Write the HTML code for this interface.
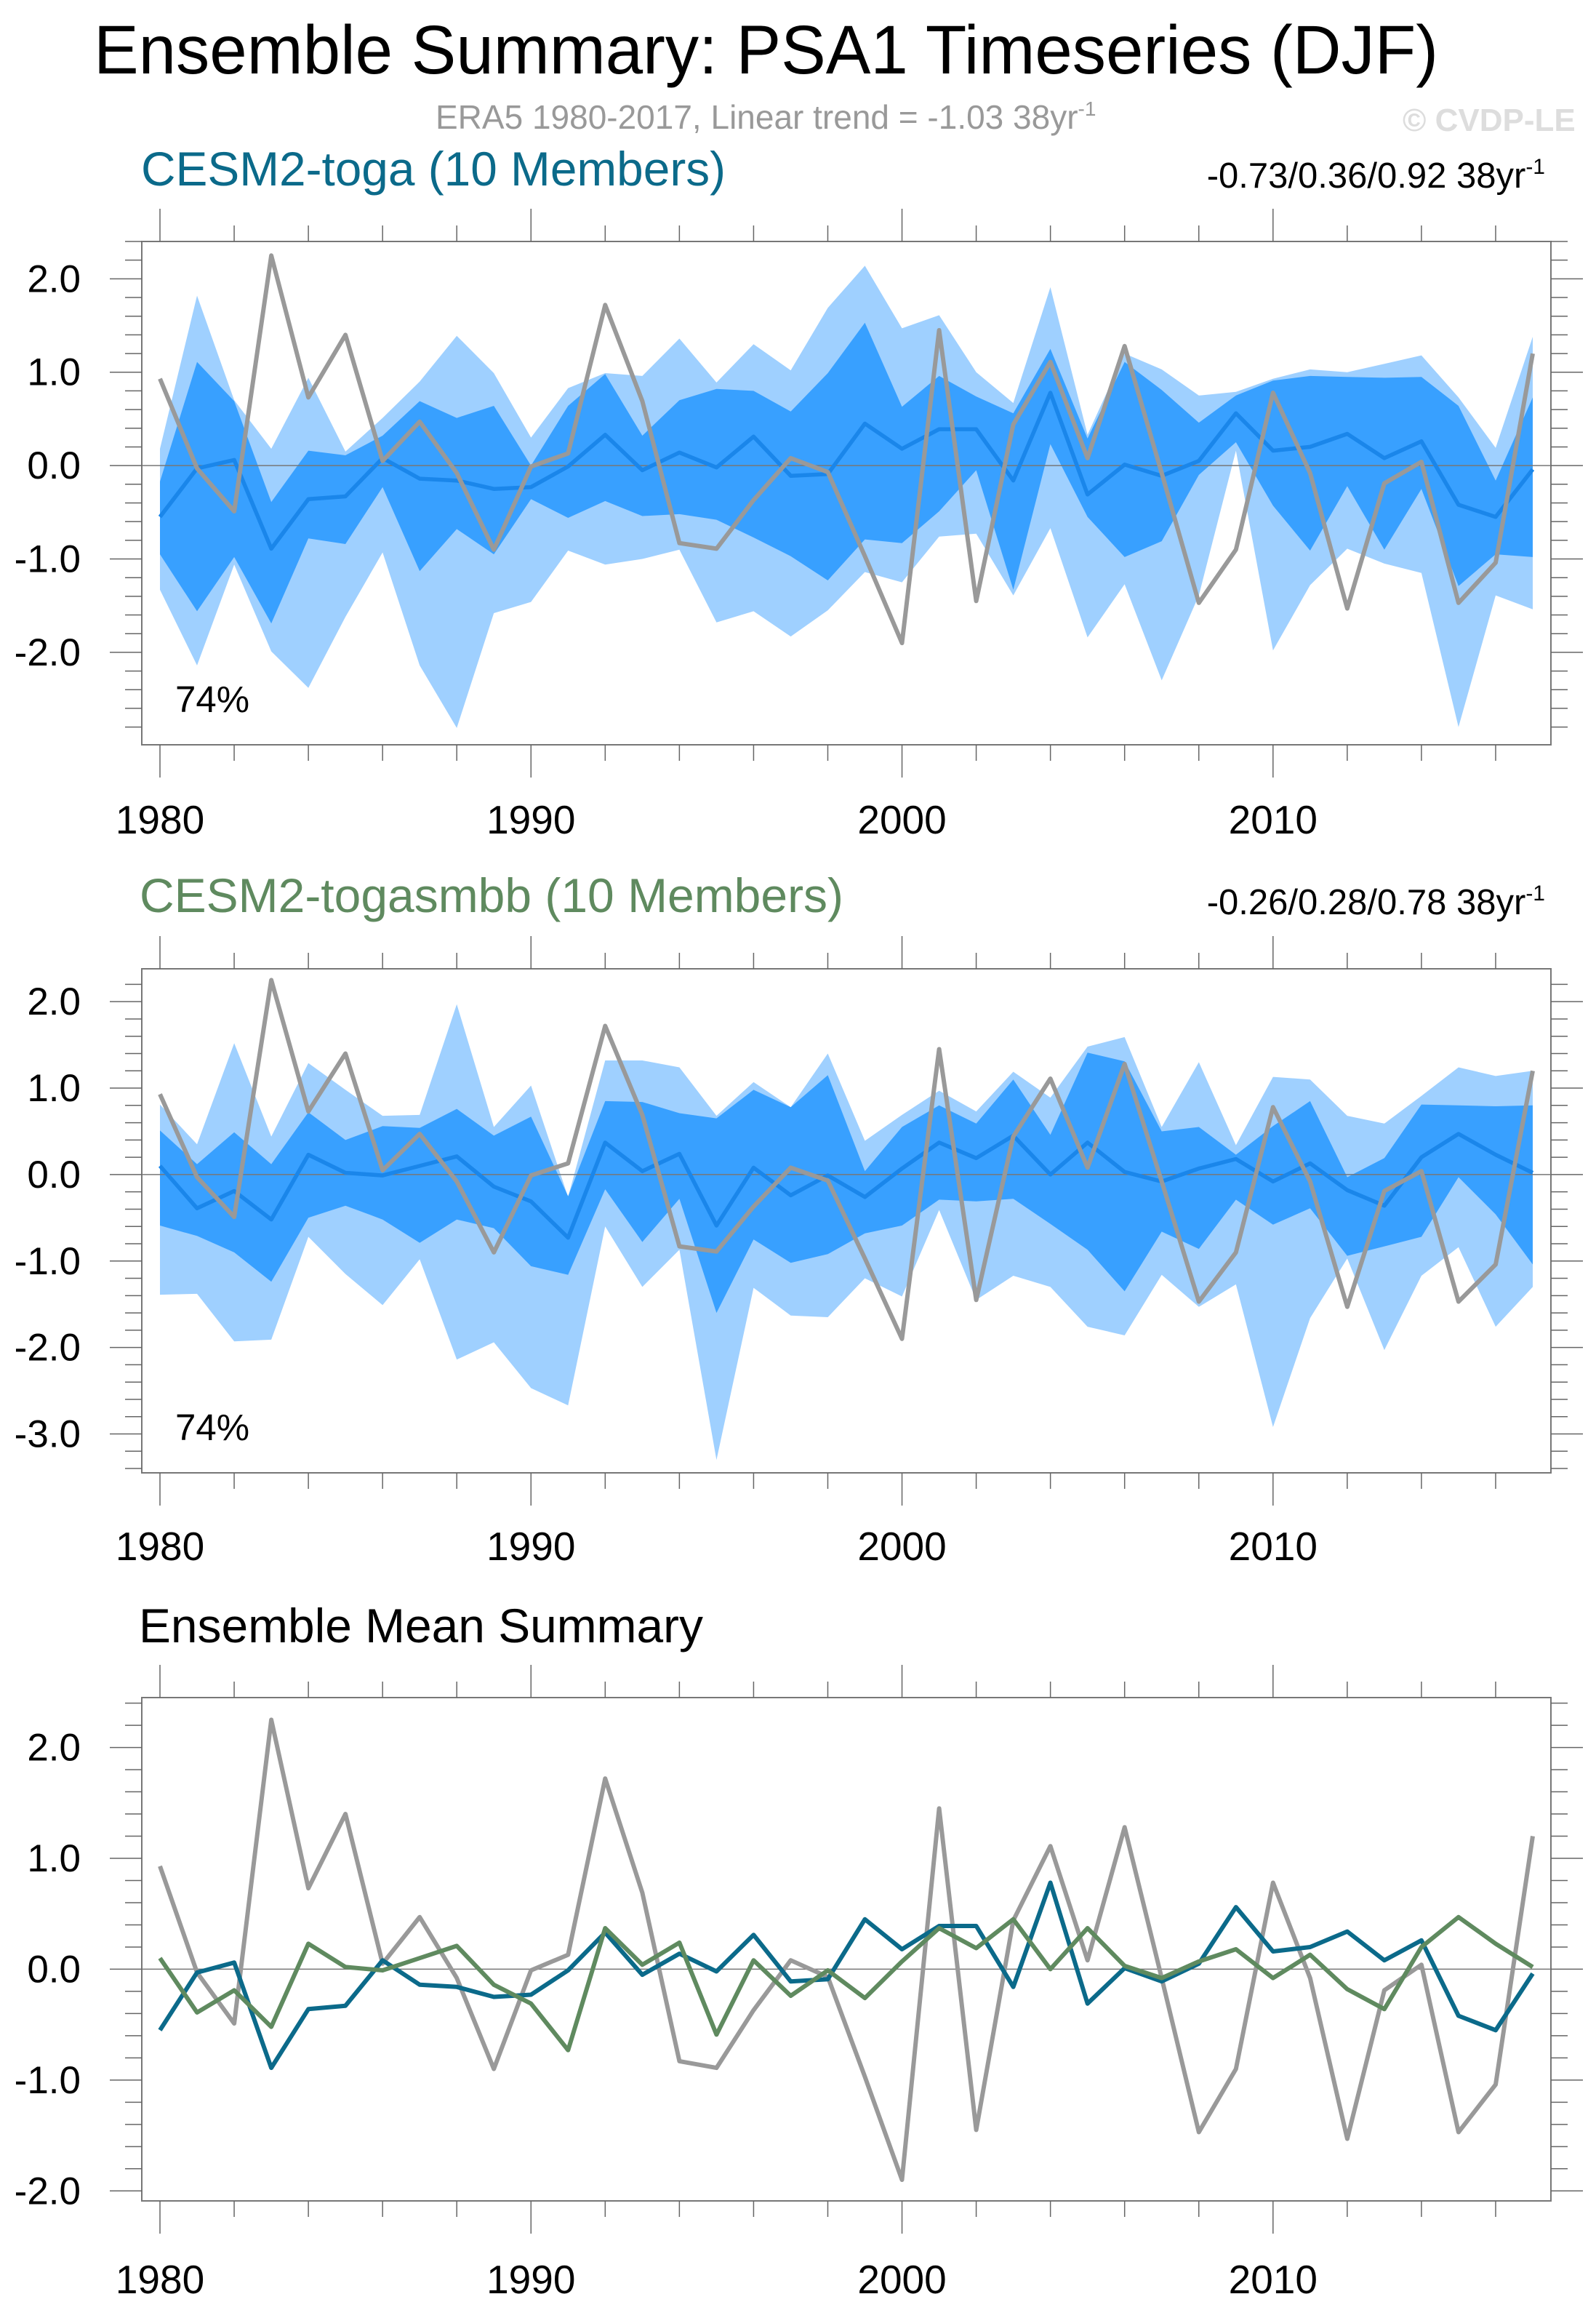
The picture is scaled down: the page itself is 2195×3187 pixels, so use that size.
<!DOCTYPE html>
<html><head><meta charset="utf-8"><title>Ensemble Summary: PSA1 Timeseries (DJF)</title>
<style>
html,body{margin:0;padding:0;background:#fff;}
svg{display:block;font-family:"Liberation Sans",sans-serif;}
</style></head>
<body>
<svg id="chart" xmlns="http://www.w3.org/2000/svg" width="2195" height="3187" viewBox="0 0 2195 3187">
<rect width="2195" height="3187" fill="#fff"/>
<text x="129" y="101" font-size="95" fill="#000" textLength="1849" lengthAdjust="spacingAndGlyphs">Ensemble Summary: PSA1 Timeseries (DJF)</text>
<text x="599" y="177" font-size="46" fill="#999">ERA5 1980-2017, Linear trend = -1.03 38yr<tspan dy="-18" font-size="28">-1</tspan></text>
<text x="1929" y="180" font-size="44" font-weight="bold" fill="#ddd">© CVDP-LE</text>
<text x="194" y="255" font-size="66" fill="#0b6a8a" textLength="804" lengthAdjust="spacingAndGlyphs">CESM2-toga (10 Members)</text>
<text x="2125" y="258" font-size="49" fill="#000" text-anchor="end">-0.73/0.36/0.92 38yr<tspan dy="-19" font-size="30">-1</tspan></text>
<text x="192" y="1254" font-size="66" fill="#5f8a5f" textLength="968" lengthAdjust="spacingAndGlyphs">CESM2-togasmbb (10 Members)</text>
<text x="2125" y="1257" font-size="49" fill="#000" text-anchor="end">-0.26/0.28/0.78 38yr<tspan dy="-19" font-size="30">-1</tspan></text>
<text x="191" y="2258" font-size="66" fill="#000" textLength="776" lengthAdjust="spacingAndGlyphs">Ensemble Mean Summary</text>
<text x="241" y="979" font-size="51" fill="#000">74%</text>
<text x="241" y="1980" font-size="51" fill="#000">74%</text>
</svg>
<script>
const years = [1980,1981,1982,1983,1984,1985,1986,1987,1988,1989,1990,1991,1992,1993,1994,1995,1996,1997,1998,1999,2000,2001,2002,2003,2004,2005,2006,2007,2008,2009,2010,2011,2012,2013,2014,2015,2016,2017];
const era5 = [0.93,-0.03,-0.49,2.25,0.73,1.40,0.05,0.47,-0.08,-0.90,-0.01,0.13,1.72,0.69,-0.83,-0.89,-0.37,0.08,-0.07,-0.97,-1.90,1.45,-1.45,0.44,1.11,0.08,1.28,-0.08,-1.47,-0.90,0.78,-0.08,-1.53,-0.19,0.04,-1.47,-1.04,1.20];
const togaMean = [-0.55,-0.03,0.06,-0.89,-0.36,-0.33,0.08,-0.14,-0.16,-0.25,-0.23,-0.01,0.33,-0.05,0.14,-0.02,0.31,-0.11,-0.09,0.45,0.18,0.39,0.39,-0.16,0.78,-0.31,0.01,-0.11,0.05,0.56,0.16,0.20,0.34,0.08,0.26,-0.42,-0.55,-0.04];
const togaDarkHi = [-0.17,1.11,0.69,-0.39,0.16,0.11,0.32,0.69,0.51,0.64,0.00,0.64,0.98,0.32,0.70,0.82,0.80,0.58,0.99,1.53,0.63,0.96,0.74,0.56,1.25,0.29,1.11,0.81,0.46,0.75,0.91,0.96,0.95,0.94,0.95,0.64,-0.16,0.73];
const togaDarkLo = [-0.95,-1.56,-0.98,-1.69,-0.78,-0.84,-0.23,-1.13,-0.68,-0.95,-0.36,-0.56,-0.38,-0.54,-0.52,-0.58,-0.77,-0.97,-1.23,-0.79,-0.83,-0.49,-0.05,-1.33,0.23,-0.55,-0.98,-0.81,-0.10,0.25,-0.43,-0.91,-0.22,-0.90,-0.25,-1.29,-0.95,-0.98];
const togaLightHi = [0.18,1.82,0.70,0.18,0.94,0.15,0.51,0.90,1.39,0.99,0.30,0.83,0.99,0.96,1.36,0.89,1.30,1.02,1.69,2.14,1.47,1.61,1.00,0.67,1.91,0.33,1.20,1.03,0.75,0.79,0.93,1.03,1.00,1.09,1.18,0.73,0.19,1.38];
const togaLightLo = [-1.33,-2.14,-1.06,-1.99,-2.38,-1.62,-0.93,-2.14,-2.81,-1.58,-1.46,-0.91,-1.06,-1.00,-0.90,-1.68,-1.56,-1.83,-1.55,-1.14,-1.25,-0.76,-0.73,-1.39,-0.67,-1.84,-1.27,-2.30,-1.39,0.16,-1.98,-1.28,-0.89,-1.05,-1.15,-2.80,-1.39,-1.54];
const smbbMean = [0.10,-0.39,-0.19,-0.52,0.23,0.02,-0.01,0.10,0.21,-0.14,-0.31,-0.73,0.37,0.04,0.24,-0.59,0.08,-0.24,-0.01,-0.26,0.07,0.37,0.19,0.45,0.00,0.37,0.03,-0.08,0.07,0.18,-0.08,0.13,-0.18,-0.36,0.20,0.47,0.23,0.02];
const smbbDarkHi = [0.51,0.12,0.49,0.12,0.72,0.40,0.56,0.54,0.76,0.45,0.67,-0.25,0.85,0.84,0.71,0.65,0.98,0.78,1.15,0.04,0.55,0.80,0.59,1.10,0.46,1.41,1.31,0.50,0.55,0.23,0.56,0.85,-0.03,0.19,0.81,0.80,0.79,0.80];
const smbbDarkLo = [-0.59,-0.71,-0.90,-1.24,-0.50,-0.36,-0.52,-0.79,-0.52,-0.62,-1.06,-1.16,-0.17,-0.78,-0.28,-1.60,-0.75,-1.02,-0.92,-0.68,-0.59,-0.29,-0.31,-0.28,-0.57,-0.87,-1.35,-0.66,-0.86,-0.29,-0.58,-0.39,-0.94,-0.83,-0.72,-0.03,-0.46,-1.04];
const smbbLightHi = [0.81,0.35,1.52,0.44,1.29,0.98,0.68,0.69,1.97,0.55,1.03,-0.26,1.32,1.32,1.24,0.68,1.07,0.78,1.40,0.39,0.69,0.97,0.73,1.19,0.89,1.48,1.59,0.55,1.30,0.34,1.13,1.10,0.68,0.59,0.91,1.24,1.14,1.20];
const smbbLightLo = [-1.39,-1.38,-1.93,-1.91,-0.72,-1.15,-1.51,-0.98,-2.14,-1.94,-2.47,-2.67,-0.60,-1.30,-0.87,-3.30,-1.31,-1.63,-1.65,-1.20,-1.41,-0.41,-1.45,-1.17,-1.30,-1.76,-1.86,-1.16,-1.53,-1.27,-2.92,-1.66,-0.97,-2.03,-1.17,-0.84,-1.76,-1.30];
const xTickLabels = ["1980","1990","2000","2010"];

const NS = "http://www.w3.org/2000/svg";
const svg = document.getElementById("chart");
const X0 = 195, X1 = 2133, YR0 = 1979.51, YR1 = 2017.49;
function xs(yr){ return X0 + (yr - YR0) / (YR1 - YR0) * (X1 - X0); }
function mk(tag, attrs, parent){ const e = document.createElementNS(NS, tag); for (const k in attrs) e.setAttribute(k, attrs[k]); (parent||svg).appendChild(e); return e; }

const panels = [
  {id:"panel1", top:332, bottom:1024, ymax:2.40, ymin:-2.99, labelY:1146, majors:[-2,-1,0,1,2]},
  {id:"panel2", top:1332, bottom:2025, ymax:2.38, ymin:-3.45, labelY:2145, majors:[-3,-2,-1,0,1,2]},
  {id:"panel3", top:2334, bottom:3026, ymax:2.45, ymin:-2.09, labelY:3153, majors:[-2,-1,0,1,2]}
];
function yScale(p){ return v => p.top + (p.ymax - v) / (p.ymax - p.ymin) * (p.bottom - p.top); }

function band(p, g, hi, lo, color, name){
  const ys = yScale(p);
  let pts = [];
  for (let i=0;i<years.length;i++) pts.push(xs(years[i]).toFixed(1)+","+ys(hi[i]).toFixed(1));
  for (let i=years.length-1;i>=0;i--) pts.push(xs(years[i]).toFixed(1)+","+ys(lo[i]).toFixed(1));
  const e = mk("polygon", {points:pts.join(" "), fill:color}, g);
  
  
}
function line(p, g, vals, color, w, name){
  const ys = yScale(p);
  const pts = vals.map((v,i)=> xs(years[i]).toFixed(1)+","+ys(v).toFixed(1)).join(" ");
  const e = mk("polyline", {points:pts, fill:"none", stroke:color, "stroke-width":w, "stroke-linejoin":"round"}, g);
  
  
}
function axes(p, g){
  const ys = yScale(p);
  const tc = "#666";
  const z = mk("line", {x1:X0, x2:X1, y1:ys(0), y2:ys(0), stroke:"#777", "stroke-width":1.5}, g);
  
  
  const b = mk("rect", {x:X0, y:p.top, width:X1-X0, height:p.bottom-p.top, fill:"none", stroke:"#777", "stroke-width":2}, g);
  
  
  for (let yr=1980; yr<=2017; yr+=2){
    const L = (yr % 10 === 0) ? 45 : 22;
    const x = xs(yr);
    const t1 = mk("line", {x1:x, x2:x, y1:p.top, y2:p.top-L, stroke:tc, "stroke-width":1.5}, g);
    
    
    const t2 = mk("line", {x1:x, x2:x, y1:p.bottom, y2:p.bottom+L, stroke:tc, "stroke-width":1.5}, g);
    
    
  }
  xTickLabels.forEach(lbl=>{
    const t = mk("text", {x:xs(+lbl), y:p.labelY, "font-size":55, "text-anchor":"middle", fill:"#000"}, g);
    t.textContent = lbl;
    
    
  });
  const lo = Math.ceil(p.ymin*5), hi = Math.floor(p.ymax*5);
  for (let k=lo;k<=hi;k++){
    const v = k/5, y = ys(v);
    const L = (k % 5 === 0) ? 44 : 23;
    const a = mk("line", {x1:X0, x2:X0-L, y1:y, y2:y, stroke:tc, "stroke-width":1.5}, g);
    
    
    const c = mk("line", {x1:X1, x2:X1+L, y1:y, y2:y, stroke:tc, "stroke-width":1.5}, g);
    
    
  }
  p.majors.forEach(v=>{
    const t = mk("text", {x:111, y:ys(v)+18, "font-size":53, "text-anchor":"end", fill:"#000"}, g);
    t.textContent = v.toFixed(1);
    
    
  });
}

let g1 = mk("g", {});


band(panels[0], g1, togaLightHi, togaLightLo, "#9fd0ff", "toga-range-band");
band(panels[0], g1, togaDarkHi, togaDarkLo, "#38a0ff", "toga-inner-band");
axes(panels[0], g1);
line(panels[0], g1, togaMean, "#1a86ea", 5.5, "toga-ensemble-mean-line");
line(panels[0], g1, era5, "#999", 6, "era5-line");

let g2 = mk("g", {});


band(panels[1], g2, smbbLightHi, smbbLightLo, "#9fd0ff", "togasmbb-range-band");
band(panels[1], g2, smbbDarkHi, smbbDarkLo, "#38a0ff", "togasmbb-inner-band");
axes(panels[1], g2);
line(panels[1], g2, smbbMean, "#1a86ea", 5.5, "togasmbb-ensemble-mean-line");
line(panels[1], g2, era5, "#999", 6, "era5-line");

let g3 = mk("g", {});


axes(panels[2], g3);
line(panels[2], g3, era5, "#999", 6, "era5-line");
line(panels[2], g3, togaMean, "#0b6a8a", 6, "toga-mean-line");
line(panels[2], g3, smbbMean, "#5f8a5f", 6, "togasmbb-mean-line");
</script>
</body></html>
